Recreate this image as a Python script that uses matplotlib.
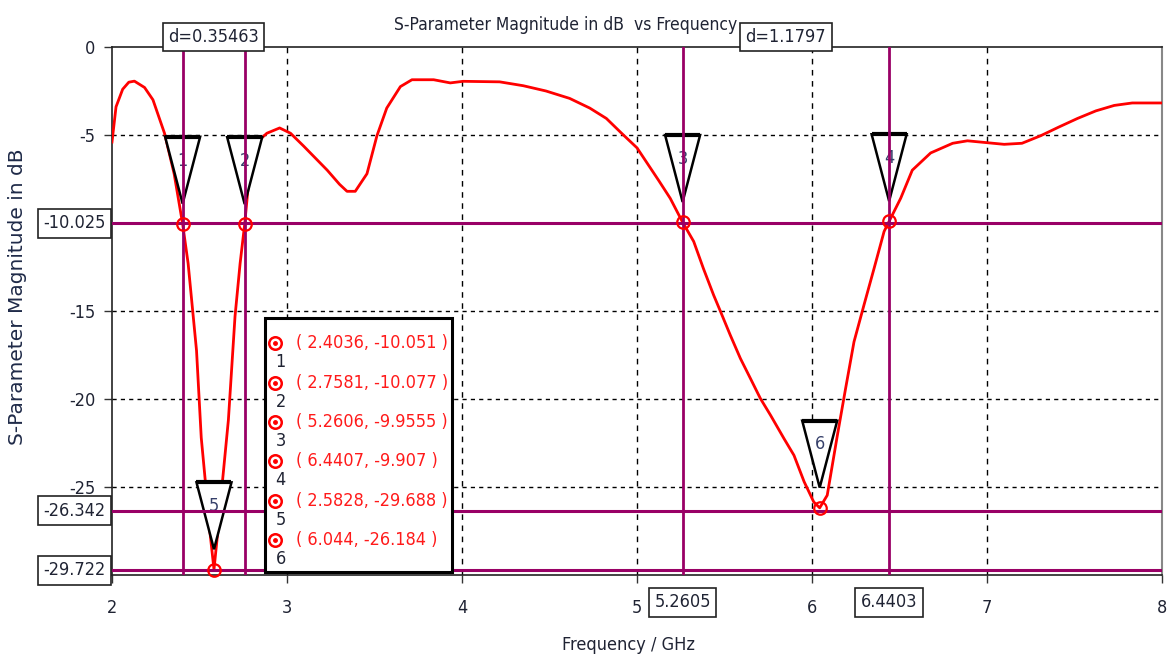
import matplotlib
matplotlib.use('Agg')
import matplotlib.pyplot as plt
from matplotlib.patches import Polygon, Rectangle
import numpy as np

plt.rcParams['font.family'] = ['DejaVu Sans']
plt.rcParams['font.stretch'] = 'condensed'
plt.rcParams['axes.unicode_minus'] = False

# S11 sweep, frequency in GHz and magnitude in dB
freq = [2.000, 2.023, 2.061, 2.096, 2.128, 2.186, 2.234, 2.300, 2.355, 2.4036,
        2.435, 2.483, 2.510, 2.536, 2.560, 2.5828, 2.607, 2.632, 2.665, 2.703,
        2.732, 2.7581, 2.780, 2.830, 2.885, 2.958, 3.020, 3.095, 3.230, 3.300,
        3.343, 3.390, 3.457, 3.514, 3.570, 3.648, 3.714, 3.838, 3.933, 4.006,
        4.215, 4.350, 4.480, 4.615, 4.730, 4.825, 4.916, 5.000, 5.125, 5.190,
        5.2606, 5.324, 5.380, 5.438, 5.476, 5.533, 5.591, 5.648, 5.705, 5.763,
        5.840, 5.897, 5.955, 6.010, 6.044, 6.087, 6.145, 6.192, 6.240, 6.297,
        6.355, 6.412, 6.4407, 6.507, 6.573, 6.678, 6.804, 6.888, 6.993, 7.098,
        7.200, 7.307, 7.410, 7.517, 7.622, 7.727, 7.830, 8.000]
s11 = [-5.4, -3.4, -2.4, -2.0, -1.94, -2.3, -3.0, -4.9, -7.2, -10.051,
       -12.3, -17.25, -22.2, -24.96, -27.6, -29.688, -27.3, -24.6, -21.2, -15.3,
       -12.3, -10.077, -7.77, -5.4, -4.9, -4.6, -4.9, -5.63, -7.0, -7.8,
       -8.2, -8.2, -7.2, -5.04, -3.47, -2.25, -1.86, -1.86, -2.04, -1.95,
       -1.98, -2.2, -2.5, -2.92, -3.47, -4.06, -4.94, -5.73, -7.6, -8.6,
       -9.9555, -11.05, -12.6, -14.1, -15.0, -16.37, -17.7, -18.83, -19.97, -20.92,
       -22.25, -23.2, -24.7, -25.85, -26.184, -25.47, -22.06, -19.4, -16.75, -14.66,
       -12.57, -10.48, -9.907, -8.59, -7.0, -6.02, -5.47, -5.33, -5.43, -5.53,
       -5.47, -5.04, -4.55, -4.06, -3.63, -3.32, -3.18, -3.18]

# curve markers
mk_id = ['1', '2', '3', '4', '5', '6']
mk_f = [2.4036, 2.7581, 5.2606, 6.4407, 2.5828, 6.044]
mk_db = [-10.051, -10.077, -9.9555, -9.907, -29.688, -26.184]

# cursor lines
vline_f = [2.40357, 2.7582, 5.2605, 6.4403]
hline_db = [-10.025, -26.342, -29.722]
delta_pairs = [(0, 1, 'd=0.35463'), (2, 3, 'd=1.1797')]
boxed_x = ['5.2605', '6.4403']

xticks = [2, 3, 4, 5, 6, 7, 8]
yticks = [0, -5, -10, -15, -20, -25, -30]
ytick_labels = ['0', '-5', '', '-15', '-20', '-25', '']   # -10 / -30 sit under the cursor boxes

purple = '#990066'
txt_col = '#1f2333'
fs = 13

fig = plt.figure(figsize=(11.76, 6.6), dpi=100)
ax = fig.add_axes([112/1176, 1 - 575/660, 1050/1176, 528/660])
ax.set_xlim(2, 8)
ax.set_ylim(-30, 0)
ax.set_xticks(xticks)
ax.set_yticks(yticks)
ax.set_yticklabels(ytick_labels)
ax.tick_params(axis='both', direction='out', length=6, width=1, labelsize=fs,
               labelcolor=txt_col, color='#333333')
ax.tick_params(axis='x', pad=11)
ax.tick_params(axis='y', pad=6)
for s in ['left', 'top', 'bottom']:
    ax.spines[s].set_color('#222222')
    ax.spines[s].set_linewidth(1.2)
ax.spines['right'].set_color('#888888')
ax.spines['right'].set_linewidth(1.5)

# dashed grid
for x in xticks[1:-1]:
    ax.axvline(x, color='k', lw=1, dashes=(4, 4), zorder=1)
for y in yticks[1:-1]:
    ax.axhline(y, color='k', lw=1, dashes=(3, 3), zorder=1)

ax.plot(freq, s11, color='#ff0000', lw=2, zorder=3)

# marker flags
for i, f, d in zip(mk_id, mk_f, mk_db):
    top = d + 4.95
    tri = Polygon([[f - 0.1, top], [f + 0.1, top], [f, top - 3.8]], closed=True,
                  facecolor='white', edgecolor='black', lw=1.8, zorder=4)
    ax.add_patch(tri)
    ax.plot([f - 0.1, f + 0.1], [top, top], color='black', lw=3, zorder=4,
            solid_capstyle='butt')
    ax.text(f, top - 1.35, i, ha='center', va='center', fontsize=fs,
            color='#36406a', zorder=4.5)

for f in vline_f:
    ax.axvline(f, color=purple, lw=2, zorder=5)
for d in hline_db:
    ax.axhline(d, color=purple, lw=2.2, zorder=5)

ax.plot(mk_f, mk_db, 'o', ms=9, mfc='none', mec='#ff0000', mew=1.6, zorder=6,
        clip_on=False)

box = dict(boxstyle='square,pad=0.3', fc='white', ec='#222222', lw=1.2)

for a, b, lab in delta_pairs:
    ax.text((vline_f[a] + vline_f[b]) / 2, 1.002, lab, transform=ax.get_xaxis_transform(),
            ha='center', va='bottom', fontsize=fs, color=txt_col, bbox=box, zorder=7)
for d in hline_db:
    ax.text(-0.006, d, '%.3f' % d, transform=ax.get_yaxis_transform(), ha='right',
            va='center', fontsize=fs, color=txt_col, bbox=box, zorder=7)
for f, lab in zip(vline_f[2:], boxed_x):
    ax.text(f, -0.052, lab, transform=ax.get_xaxis_transform(), ha='center', va='center',
            fontsize=fs, color=txt_col, bbox=box, zorder=7)

# marker table
ax.add_patch(Rectangle((0.1457, 0.0057), 0.178, 0.481, transform=ax.transAxes,
                       fc='white', ec='black', lw=2.2, zorder=8))
for k, (i, f, d) in enumerate(zip(mk_id, mk_f, mk_db)):
    yy = 0.439 - k * 0.0745
    ax.plot(0.1555, yy, 'o', ms=9, mfc='none', mec='#ff0000', mew=1.8,
            transform=ax.transAxes, zorder=9, clip_on=False)
    ax.plot(0.1555, yy, 'o', ms=2.5, color='#ff0000', transform=ax.transAxes, zorder=9,
            clip_on=False)
    ax.text(0.1605, yy - 0.036, i, transform=ax.transAxes, ha='center', va='center',
            fontsize=fs, color=txt_col, zorder=9)
    ax.text(0.1755, yy, '( %.5g, %.5g )' % (f, d), transform=ax.transAxes, ha='left',
            va='center', fontsize=fs, color='#ff1a1a', zorder=9)

fig.text(566/1176, 1 - 25/660, 'S-Parameter Magnitude in dB  vs Frequency', ha='center',
         va='center', fontsize=12.5, color=txt_col)
fig.text(628/1176, 1 - 645/660, 'Frequency / GHz', ha='center', va='center',
         fontsize=fs, color=txt_col)
fig.text(18/1176, 1 - 297/660, 'S-Parameter Magnitude in dB', ha='center', va='center',
         rotation=90, fontsize=14.5, fontstretch='normal', color='#1f2a48')

fig.savefig('out.png', dpi=100, facecolor='white')
